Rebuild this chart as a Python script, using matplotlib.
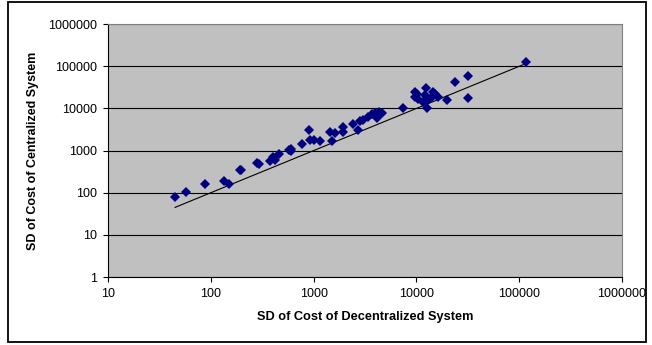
import numpy as np
import matplotlib.pyplot as plt
from matplotlib.patches import Rectangle

plt.rcParams['font.family'] = ['Liberation Sans', 'DejaVu Sans']

# SD of cost, decentralized (x) vs centralized (y)
sd_decentral = [45, 57, 87, 133, 149, 192, 198, 280, 292, 380, 400, 420, 465,
                580, 600, 605, 766, 910, 925, 1000, 1160, 1450, 1600, 1500,
                1920, 1920, 2420, 2720, 2830, 3040, 3400, 3670, 3960, 4360,
                4590, 4260, 4100, 7470, 9690, 9690, 10050, 10400, 12400,
                12100, 13100, 12600, 14600, 15200, 14100, 16300, 11700,
                20000, 23800, 31500, 32000, 117000]
sd_central = [80, 105, 165, 195, 160, 345, 355, 495, 490, 560, 700, 610, 820,
              1050, 1120, 980, 1420, 3150, 1740, 1800, 1680, 2750, 2550, 1720,
              3600, 2750, 4300, 3150, 5050, 5450, 6300, 7300, 8000, 8300,
              7700, 6500, 6000, 10500, 24500, 18800, 21800, 17000, 31000,
              20700, 15700, 10300, 24800, 21800, 18900, 18200, 14400,
              15500, 41400, 60000, 17700, 125000]

# y = x reference line
line_x = [45, 110000]
line_y = [45, 110000]

fig = plt.figure(figsize=(6.52, 3.45), dpi=100)
ax = fig.add_axes([0.1656, 0.197, 0.7884, 0.733])
ax.set_facecolor('#C0C0C0')

ax.set_xscale('log')
ax.set_yscale('log')
ax.set_xlim(10, 1000000)
ax.set_ylim(1, 1000000)

ax.grid(True, axis='y', which='major', color='black', linewidth=0.8)
ax.set_axisbelow(True)

ax.plot(line_x, line_y, color='black', linewidth=0.8, zorder=3)
ax.plot(sd_decentral, sd_central, 'D', color='#000080', markersize=5.2,
        markeredgewidth=0, zorder=4)

ax.set_xticks([10, 100, 1000, 10000, 100000, 1000000])
ax.set_xticklabels(['10', '100', '1000', '10000', '100000', '1000000'])
ax.set_yticks([1, 10, 100, 1000, 10000, 100000, 1000000])
ax.set_yticklabels(['1', '10', '100', '1000', '10000', '100000', '1000000'])
ax.minorticks_off()
ax.tick_params(labelsize=9, length=3.6, width=0.8, direction='out', pad=4)

for side in ['top', 'right']:
    ax.spines[side].set_color('#808080')
    ax.spines[side].set_linewidth(0.8)
for side in ['left', 'bottom']:
    ax.spines[side].set_linewidth(0.8)

ax.set_xlabel('SD of Cost of Decentralized System', fontsize=9.2,
              fontweight='bold', labelpad=8)
ax.set_ylabel('SD of Cost of Centralized System', fontsize=9,
              fontweight='bold', labelpad=7)

fig.patches.append(Rectangle((0.013, 0.008), 0.978, 0.985,
                             transform=fig.transFigure, fill=False,
                             edgecolor='black', linewidth=1.3))

fig.savefig('out.png', dpi=100)
